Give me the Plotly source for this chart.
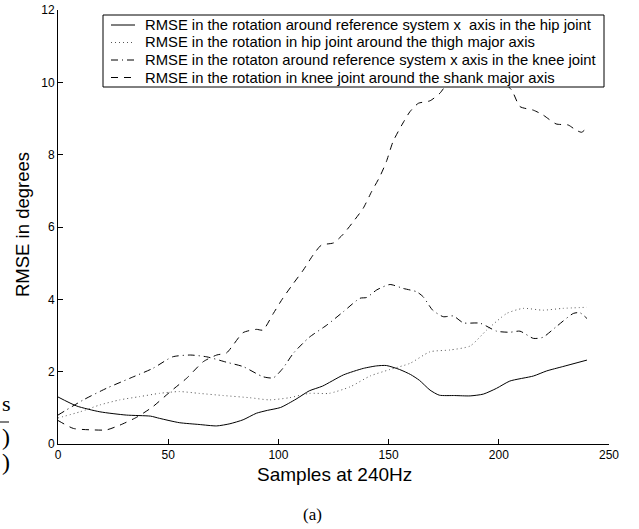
import plotly.graph_objects as go

# Series 1: RMSE rotation around reference x axis, hip joint (solid)
hip_x_s = [0, 8.5, 19, 31, 42, 46, 55, 64, 72, 78, 84, 90, 95, 101, 108, 114, 120, 129.5, 138.5,
           144.6, 149, 155, 160, 164, 168.8, 173, 180, 187, 193, 199, 205, 215.7, 221.7, 229, 240]
hip_x_v = [1.30, 1.05, 0.89, 0.80, 0.77, 0.71, 0.59, 0.54, 0.50, 0.56, 0.67, 0.85, 0.93, 1.01, 1.24,
           1.47, 1.60, 1.91, 2.09, 2.16, 2.17, 2.06, 1.92, 1.76, 1.49, 1.35, 1.34, 1.33, 1.38, 1.54,
           1.74, 1.88, 2.02, 2.14, 2.32]

# Series 2: RMSE rotation in hip joint around thigh major axis (dotted)
hip_t_s = [0, 10, 19, 28, 37, 46, 55, 64, 75, 87, 96, 105, 114, 123, 132.5, 141.6, 150.6, 159.7,
           168.8, 177.9, 187, 194.5, 203.6, 211, 220, 229, 240]
hip_t_v = [0.72, 0.89, 1.08, 1.22, 1.31, 1.40, 1.45, 1.40, 1.34, 1.28, 1.22, 1.28, 1.40, 1.40, 1.58,
           1.88, 2.06, 2.23, 2.55, 2.60, 2.71, 3.15, 3.61, 3.75, 3.70, 3.75, 3.78]

# Series 3: RMSE rotation around reference x axis, knee joint (dash-dot)
knee_x_s = [0, 11.5, 22, 32.7, 43, 52, 60, 67.5, 76.5, 84, 93, 97.7, 102, 106.8, 114, 122, 129.5,
            137, 140, 144.6, 150.6, 156.7, 162.7, 165.7, 170, 174.8, 179.4, 183.9, 191.5, 199, 205,
            209.6, 215.7, 220, 226, 233.8, 236.8, 240]
knee_x_v = [0.80, 1.22, 1.54, 1.82, 2.09, 2.41, 2.46, 2.41, 2.26, 2.14, 1.86, 1.83, 2.09, 2.51, 2.95,
            3.29, 3.66, 4.03, 4.05, 4.26, 4.41, 4.30, 4.21, 4.07, 3.70, 3.52, 3.54, 3.35, 3.34, 3.12,
            3.09, 3.12, 2.92, 2.95, 3.24, 3.61, 3.63, 3.47]

# Series 4: RMSE rotation in knee joint around shank major axis (dashed)
knee_s_s = [0, 7, 16, 22, 28, 35.7, 43, 51, 58.4, 66, 72, 76.5, 79.5, 84, 90, 93, 97.7, 102, 106.8,
            111.3, 115.8, 119.5, 125, 129.4, 134, 138.5, 142.3, 146, 149, 152, 156, 159.7, 163.5,
            168.8, 173.3, 175.6, 180, 185, 190, 195, 200, 205.8, 209.6, 215.7, 220, 226, 231.5, 235,
            237.6, 240]
knee_s_v = [0.65, 0.43, 0.39, 0.39, 0.52, 0.74, 1.03, 1.45, 1.82, 2.28, 2.46, 2.52, 2.74, 3.08, 3.17,
            3.15, 3.61, 4.03, 4.44, 4.81, 5.23, 5.50, 5.56, 5.80, 6.15, 6.52, 6.98, 7.39, 7.81, 8.36,
            8.82, 9.19, 9.42, 9.49, 9.70, 9.88, 10.05, 10.2, 10.3, 10.25, 10.1, 9.79, 9.33, 9.23, 9.10,
            8.85, 8.82, 8.68, 8.62, 8.75]

names = [
    "RMSE in the rotation around reference system x\u00a0 axis in the hip joint",
    "RMSE in the rotation in hip joint around the thigh major axis",
    "RMSE in the rotaton around reference system x axis in the knee joint",
    "RMSE in the rotation in knee joint around the shank major axis",
]

x_ticks = [0, 50, 100, 150, 200, 250]
y_ticks = [0, 2, 4, 6, 8, 10, 12]

series = [
    (hip_x_s, hip_x_v, "solid", "#000000"),
    (hip_t_s, hip_t_v, "1px,3px", "#555555"),
    (knee_x_s, knee_x_v, "7px,4px,1px,4px", "#000000"),
    (knee_s_s, knee_s_v, "7px,6px", "#000000"),
]

fig = go.Figure()
for (xs, ys, dash, col), nm in zip(series, names):
    fig.add_trace(go.Scatter(
        x=xs, y=ys, mode="lines", name=nm, showlegend=False,
        line=dict(color=col, width=1, dash=dash, shape="spline", smoothing=0.6),
    ))

font_family = "Liberation Sans, Arial, Helvetica, sans-serif"
serif = "Liberation Serif, Times New Roman, serif"

W, H = 639, 529
# plot area in page pixels
PL, PR, PT, PB = 58, 609, 10, 444
pw, ph = PR - PL, PB - PT


def px(sx):
    return (sx - PL) / pw


def py(sy):
    return (PB - sy) / ph


fig.update_layout(
    width=W, height=H,
    margin=dict(l=PL, r=W - PR, t=PT, b=H - PB, pad=0, autoexpand=False),
    paper_bgcolor="white", plot_bgcolor="white",
    font=dict(family=font_family, color="black", size=12),
    showlegend=False,
    xaxis=dict(
        range=[0, 250], tickvals=x_ticks, ticktext=[str(v) for v in x_ticks],
        showline=True, linecolor="black", linewidth=1, mirror=False, automargin=False,
        ticks="inside", ticklen=5, tickcolor="black", showgrid=False, zeroline=False,
        tickfont=dict(size=12), ticklabeloverflow="allow",
    ),
    yaxis=dict(
        range=[0, 12], tickvals=y_ticks, ticktext=[str(v) for v in y_ticks],
        showline=True, linecolor="black", linewidth=1, mirror=False, automargin=False,
        ticks="inside", ticklen=5, tickcolor="black", showgrid=False, zeroline=False,
        tickfont=dict(size=12), ticklabeloverflow="allow",
    ),
)

# legend box (drawn over the curves, like the original)
fig.add_shape(type="rect", xref="paper", yref="paper", layer="above",
              x0=px(103), x1=px(604), y0=py(87), y1=py(15),
              fillcolor="white", line=dict(color="black", width=1))
row_y = [25, 42.5, 60, 77.5]
for (xs, ys, dash, col), nm, ry in zip(series, names, row_y):
    fig.add_shape(type="line", xref="paper", yref="paper", layer="above",
                  x0=px(111), x1=px(135), y0=py(ry), y1=py(ry),
                  line=dict(color=col, width=1, dash=dash))
    fig.add_annotation(text=nm, xref="paper", yref="paper", x=px(143), y=py(ry),
                       xanchor="left", yanchor="middle", showarrow=False,
                       font=dict(size=14.8, family=font_family, color="black"))

# axis titles
fig.add_annotation(text="Samples at 240Hz", xref="paper", yref="paper", x=px(334), y=py(474),
                   xanchor="center", yanchor="middle",
                   showarrow=False, font=dict(size=19, color="black"))
fig.add_annotation(text="RMSE in degrees", xref="paper", yref="paper", x=px(22), y=py(225),
                   xanchor="center", yanchor="middle",
                   textangle=-90, showarrow=False, font=dict(size=18.5, color="black"))

# caption and neighbouring-figure fragment at the left edge
fig.add_annotation(text="(a)", xref="paper", yref="paper", x=px(312), y=py(514),
                   xanchor="center", yanchor="middle",
                   showarrow=False, font=dict(family=serif, size=17, color="black"))
fig.add_annotation(text="s", xref="paper", yref="paper", x=px(0), y=py(403),
                   xanchor="left", yanchor="middle", showarrow=False,
                   font=dict(family=serif, size=22, color="black"))
fig.add_annotation(text=")", xref="paper", yref="paper", x=px(0), y=py(437),
                   xanchor="left", yanchor="middle", showarrow=False,
                   font=dict(family=serif, size=24, color="black"))
fig.add_annotation(text=")", xref="paper", yref="paper", x=px(0), y=py(462),
                   xanchor="left", yanchor="middle", showarrow=False,
                   font=dict(family=serif, size=24, color="black"))
fig.add_shape(type="line", xref="paper", yref="paper",
              x0=px(0), x1=px(9), y0=py(422), y1=py(422),
              line=dict(color="black", width=1))

# remove the default 8px page margin so the figure sits at the window's top-left corner
fig.write_html("out.html", config={"displayModeBar": False, "staticPlot": True},
               post_script="document.body.style.margin='0';")
